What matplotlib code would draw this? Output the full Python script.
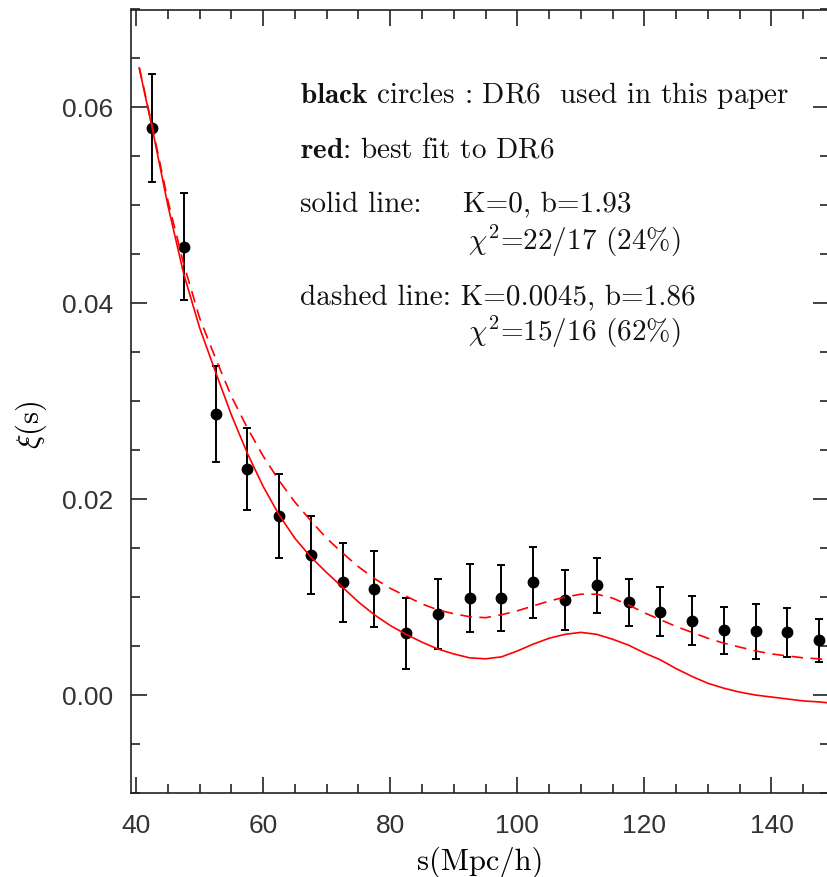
import matplotlib
matplotlib.use("Agg")
import matplotlib.pyplot as plt
from matplotlib.ticker import MultipleLocator

plt.rcParams["mathtext.fontset"] = "cm"

# DR6 redshift-space correlation function with errors
s_data = [42.5, 47.5, 52.5, 57.5, 62.5, 67.5, 72.5, 77.5, 82.5, 87.5, 92.5,
          97.5, 102.5, 107.5, 112.5, 117.5, 122.5, 127.5, 132.5, 137.5, 142.5, 147.5]
xi_data = [0.0579, 0.0458, 0.0287, 0.0231, 0.0183, 0.0143, 0.0115, 0.0108,
           0.0063, 0.0083, 0.0099, 0.0099, 0.0115, 0.0097, 0.0112, 0.0095,
           0.0085, 0.0076, 0.0066, 0.0065, 0.0064, 0.0056]
xi_err = [0.0055, 0.0055, 0.0049, 0.0042, 0.0043, 0.0040, 0.0040, 0.0039,
          0.0036, 0.0036, 0.0035, 0.0034, 0.0036, 0.0031, 0.0028, 0.0024,
          0.0025, 0.0025, 0.0024, 0.0028, 0.0025, 0.0022]

# best-fit model curves
s_model = [40.5, 42.5, 45, 47.5, 50, 52.5, 55, 57.5, 60, 62.5, 65, 67.5, 70,
           72.5, 75, 77.5, 80, 82.5, 85, 87.5, 90, 92.5, 95, 97.5, 100, 102.5,
           105, 107.5, 110, 112.5, 115, 117.5, 120, 122.5, 125, 127.5, 130,
           132.5, 135, 137.5, 140, 142.5, 145, 147.5, 149]
xi_flat = [0.0640, 0.0580, 0.0500, 0.0430, 0.0375, 0.0330, 0.0286, 0.0247,
           0.0213, 0.0184, 0.0160, 0.0141, 0.0125, 0.0110, 0.0095, 0.0082,
           0.0071, 0.0062, 0.0054, 0.0047, 0.0042, 0.0038, 0.0037, 0.0039,
           0.0045, 0.0052, 0.0058, 0.0062, 0.0064, 0.0062, 0.0057, 0.0051,
           0.0043, 0.0036, 0.0027, 0.0019, 0.0012, 0.0007, 0.0003, 0.0000,
           -0.0002, -0.0004, -0.0006, -0.0007, -0.0008]
xi_curved = [0.0641, 0.0582, 0.0505, 0.0440, 0.0385, 0.0344, 0.0305, 0.0273,
             0.0244, 0.0219, 0.0197, 0.0178, 0.0160, 0.0145, 0.0131, 0.0119,
             0.0109, 0.0101, 0.0093, 0.0087, 0.0083, 0.0080, 0.0079, 0.0082,
             0.0086, 0.0091, 0.0096, 0.0100, 0.0103, 0.0103, 0.0099, 0.0092,
             0.0084, 0.0077, 0.0070, 0.0064, 0.0058, 0.0053, 0.0049, 0.0045,
             0.0042, 0.0040, 0.0038, 0.0037, 0.0036]

W, H = 827, 877
fig = plt.figure(figsize=(W / 100, H / 100), dpi=100)
ax = fig.add_axes([131 / W, 1 - 793 / H, 1.002 - 131 / W, (793 - 9.5) / H])

ax.errorbar(s_data, xi_data, yerr=xi_err, fmt="o", color="black", ms=7.5,
            capsize=3.2, elinewidth=1.4, capthick=1.4, zorder=2)
ax.plot(s_model, xi_flat, color="red", lw=1.2, zorder=3)
ax.plot(s_model, xi_curved, color="red", lw=1.2, ls=(0, (7, 4.5)), zorder=3)

ax.set_xlim(39.2, 149)
ax.set_ylim(-0.01, 0.07)

ax.xaxis.set_major_locator(MultipleLocator(20))
ax.xaxis.set_minor_locator(MultipleLocator(5))
ax.yaxis.set_major_locator(MultipleLocator(0.02))
ax.yaxis.set_minor_locator(MultipleLocator(0.005))
ax.yaxis.set_major_formatter(lambda v, p: f"{v:.2f}")

for sp in ax.spines.values():
    sp.set_linewidth(1.2)
    sp.set_color("#222222")
ax.tick_params(which="both", direction="in", top=True, right=True,
               width=1.2, color="#222222", labelcolor="#333333",
               labelsize=19)
ax.tick_params(which="major", length=11.5)
ax.tick_params(which="minor", length=6.5)
ax.tick_params(axis="x", pad=15)
ax.tick_params(axis="y", pad=13)
for lbl in ax.get_xticklabels() + ax.get_yticklabels():
    lbl.set_fontfamily("Liberation Sans")

ax.set_xlabel("s(Mpc/h)", fontfamily="cmr10", fontsize=22, labelpad=6)
ax.set_ylabel(r"$\xi$(s)", fontfamily="cmr10", fontsize=22)
ax.yaxis.set_label_coords(-0.118, 0.47)

# annotation block, positioned in figure pixels
notes = [
    (300, 103, r"$\mathbf{black}$ circles : DR6  used in this paper"),
    (300, 157, r"$\mathbf{red}$: best fit to DR6"),
    (300, 212.5, "solid line:"),
    (463, 212.5, "K=0, b=1.93"),
    (468, 250, r"$\chi^2$=22/17 (24%)"),
    (300, 305, "dashed line: K=0.0045, b=1.86"),
    (468, 341.5, r"$\chi^2$=15/16 (62%)"),
]
for x, y, txt in notes:
    fig.text(x / W, 1 - y / H, txt, fontfamily="cmr10", fontsize=21,
             color="#111111", ha="left", va="baseline")

fig.savefig("out.png", dpi=100)
